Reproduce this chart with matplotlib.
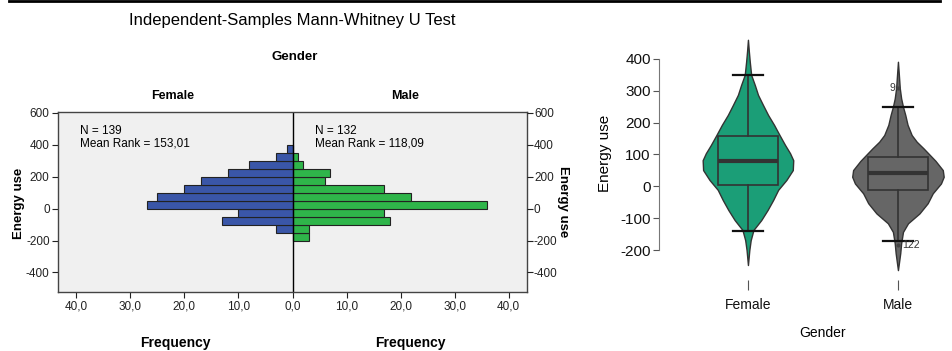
"""
Recreation of an SPSS Mann-Whitney U population pyramid next to a violin plot.
"""

import matplotlib
matplotlib.use("Agg")
import matplotlib.pyplot as plt
from matplotlib.lines import Line2D
import numpy as np

# --- data ---------------------------------------------------------------
bin_edges = [-200, -150, -100, -50, 0, 50, 100, 150, 200, 250, 300, 350, 400]
female_counts = [0, 3, 13, 10, 27, 25, 20, 17, 12, 8, 3, 1]
male_counts = [3, 3, 18, 17, 36, 22, 17, 6, 7, 2, 1, 0]
female_n, male_n = 139, 132
female_rank, male_rank = "153,01", "118,09"

groups = ["Female", "Male"]
# violin outline: energy value -> relative density
female_profile_y = [460, 423, 391, 350, 318, 287, 255, 224, 193, 161, 130, 104, 82, 51, 20,
                    -11, -43, -74, -106, -137, -169, -200, -247]
female_profile_w = [0, 0.02, 0.04, 0.07, 0.15, 0.22, 0.33, 0.44, 0.57, 0.69, 0.81, 0.92, 0.99, 0.98, 0.84,
                    0.66, 0.55, 0.43, 0.29, 0.12, 0.06, 0.03, 0]
male_profile_y = [391, 350, 308, 276, 250, 224, 193, 161, 140, 119, 98, 80, 51, 30, 9,
                  -22, -53, -85, -116, -143, -179, -210, -263]
male_profile_w = [0, 0.02, 0.04, 0.07, 0.11, 0.16, 0.21, 0.30, 0.41, 0.56, 0.70, 0.82, 0.98, 1.0, 0.94,
                  0.76, 0.65, 0.47, 0.22, 0.11, 0.07, 0.05, 0]

# box stats: q1, median, q3, lower whisker, upper whisker
female_box = [4, 79, 159, -141, 350]
male_box = [-12, 41, 91, -171, 250]
outlier_values = [308, -184]
outlier_labels = ["9", "122"]

W, H = 952, 351
SANS = ["Liberation Sans", "DejaVu Sans"]
BLUE = "#3a56a8"
GREEN = "#2fb54a"


def px(x, y):
    return x / W, 1 - y / H


fig = plt.figure(figsize=(W / 100, H / 100), dpi=100)
fig.add_artist(Line2D([9 / W, 940 / W], [1 - 1 / H, 1 - 1 / H], color="black", lw=2))

# --- left: population pyramid -------------------------------------------
ax = fig.add_axes([58 / W, 59 / H, 469 / W, 180 / H])
ax.set_facecolor("#f0f0f0")
centers = [(a + b) / 2 for a, b in zip(bin_edges[:-1], bin_edges[1:])]
ax.barh(centers, [-c for c in female_counts], height=50, color=BLUE, edgecolor="#222222", linewidth=0.8)
ax.barh(centers, male_counts, height=50, color=GREEN, edgecolor="#222222", linewidth=0.8)
ax.axvline(0, color="black", lw=1)
ax.set_xlim(-43.4, 43.4)
ax.set_ylim(-523, 606)
xt = [-40, -30, -20, -10, 0, 10, 20, 30, 40]
ax.set_xticks(xt)
ax.set_xticklabels([f"{abs(v)},0" for v in xt], family=SANS, fontsize=8.5)
yt = [-400, -200, 0, 200, 400, 600]
ax.set_yticks(yt)
ax.set_yticklabels([str(v) for v in yt], family=SANS, fontsize=8.5)
ax.tick_params(length=4, width=0.8, colors="#222222", pad=2)
for s in ax.spines.values():
    s.set_color("#444444")
    s.set_linewidth(1)

ax2 = ax.twinx()
ax2.set_ylim(ax.get_ylim())
ax2.set_yticks(yt)
ax2.set_yticklabels([str(v) for v in yt], family=SANS, fontsize=8.5)
ax2.tick_params(length=4, width=0.8, colors="#222222", pad=1)
for s in ax2.spines.values():
    s.set_visible(False)

fig.text(*px(292, 20), "Independent-Samples Mann-Whitney U Test", family=SANS,
         fontsize=12, ha="center", va="center")
fig.text(*px(295, 57), "Gender", family=SANS, fontsize=9.5, fontweight="bold", ha="center", va="center")
fig.text(*px(173, 96), "Female", family=SANS, fontsize=9, fontweight="bold", ha="center", va="center")
fig.text(*px(405, 96), "Male", family=SANS, fontsize=9, fontweight="bold", ha="center", va="center")
fig.text(*px(175, 343), "Frequency", family=SANS, fontsize=10, fontweight="bold", ha="center", va="center")
fig.text(*px(410, 343), "Frequency", family=SANS, fontsize=10, fontweight="bold", ha="center", va="center")
fig.text(*px(19, 203), "Energy use", family=SANS, fontsize=9.5, fontweight="bold", rotation=90,
         ha="center", va="center")
fig.text(*px(563, 202), "Energy use", family=SANS, fontsize=9.5, fontweight="bold", rotation=-90,
         ha="center", va="center")
fig.text(*px(80, 125), f"N = {female_n}\nMean Rank = {female_rank}", family=SANS, fontsize=8.5,
         ha="left", va="top", linespacing=1.0)
fig.text(*px(315, 125), f"N = {male_n}\nMean Rank = {male_rank}", family=SANS, fontsize=8.5,
         ha="left", va="top", linespacing=1.0)

# --- right: violin + box plot --------------------------------------------
bx = fig.add_axes([659 / W, 71 / H, 291 / W, 245 / H])
bx.set_xlim(0.407, 2.347)
bx.set_ylim(-294, 475)
profiles = [(female_profile_y, female_profile_w, "#1b9e77"), (male_profile_y, male_profile_w, "#666666")]
for pos, (py, pw, col) in enumerate(profiles, start=1):
    pw = np.array(pw) * 0.305
    bx.fill_betweenx(py, pos - pw, pos + pw, facecolor=col, edgecolor="#333333", lw=1,
                     joinstyle="round", zorder=1)

stats = []
for name, b in zip(groups, [female_box, male_box]):
    stats.append(dict(label=name, q1=b[0], med=b[1], q3=b[2], whislo=b[3], whishi=b[4], fliers=[]))
bx.bxp(stats, positions=[1, 2], widths=0.4, capwidths=0.2, showfliers=False, patch_artist=True,
       boxprops=dict(facecolor="none", edgecolor="#333333", lw=1.2),
       whiskerprops=dict(color="#333333", lw=1.2),
       capprops=dict(color="#111111", lw=1.6),
       medianprops=dict(color="#333333", lw=3))
bx.scatter([2, 2], outlier_values, s=4, color="#444444", zorder=3)
bx.text(1.985, outlier_values[0], outlier_labels[0], fontsize=7.5, color="#333333", ha="right", va="center",
        family=SANS)
bx.text(2.03, outlier_values[1], outlier_labels[1], fontsize=7.5, color="#333333", ha="left", va="center",
        family=SANS)

bx.set_yticks([-200, -100, 0, 100, 200, 300, 400])
bx.set_yticklabels(["-200", "-100", "0", "100", "200", "300", "400"], family=SANS, fontsize=11)
bx.set_xticks([1, 2])
bx.set_xticklabels(groups, family=SANS, fontsize=10)
bx.tick_params(axis="y", length=4, width=0.8, colors="#555555", labelcolor="#111111", pad=2)
bx.tick_params(axis="x", length=7, width=0.8, colors="#555555", labelcolor="#111111", pad=6)
xticks = bx.xaxis.get_major_ticks()
xticks[0].tick1line.set_color("#333333")
xticks[1].tick1line.set_color("#c8c8c8")
for s in ["top", "right", "bottom"]:
    bx.spines[s].set_visible(False)
bx.spines["left"].set_bounds(-200, 400)
bx.spines["left"].set_color("#777777")
bx.set_facecolor("none")
fig.text(*px(605, 153), "Energy use", family=SANS, fontsize=11, rotation=90, ha="center", va="center")
fig.text(*px(823, 333), "Gender", family=SANS, fontsize=10, ha="center", va="center")

fig.savefig("out.png", dpi=100)
